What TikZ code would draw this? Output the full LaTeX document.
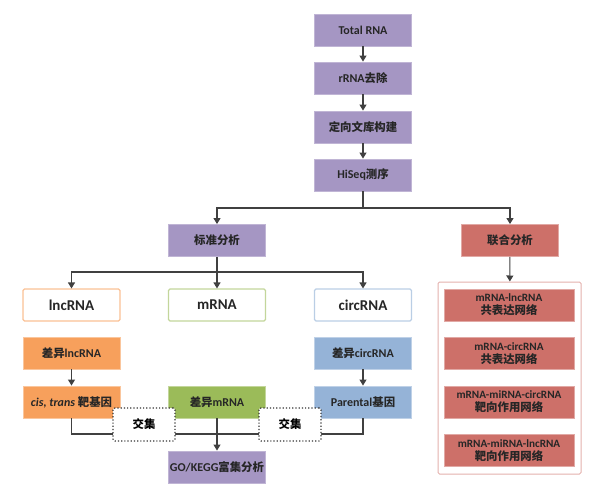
\documentclass[tikz,border=0pt]{standalone}
\usepackage{fontspec}
\setmainfont{Carlito}
\newfontfamily\cjk{Noto Sans CJK SC}[Scale=0.95]
\usetikzlibrary{arrows.meta}
\definecolor{cpurple}{RGB}{165,150,195}
\definecolor{cred}{RGB}{205,112,105}
\definecolor{corange}{RGB}{247,160,92}
\definecolor{cgreen}{RGB}{155,187,89}
\definecolor{cblue}{RGB}{149,179,215}
\definecolor{lnline}{RGB}{64,64,64}
\newcommand\zh[1]{{\cjk #1}}
\tikzset{
  box/.style={minimum width=97pt, minimum height=32pt, inner sep=1pt, align=center,
    font=\bfseries\fontsize{12}{13}\selectfont, text=black!85, line width=0.9pt},
  pbox/.style={box, fill=cpurple, draw=cpurple!70!white},
  rbox/.style={box, fill=cred, draw=cred!60!white, minimum width=130pt},
  obox/.style={box, fill=corange, draw=corange!60!white},
  gbox/.style={box, fill=cgreen, draw=cgreen!60!white},
  bbox/.style={box, fill=cblue, draw=cblue!60!white},
  wbox/.style={box, fill=white, rounded corners=1.5pt, line width=1.1pt,
    font=\bfseries\fontsize{15}{16}\selectfont},
  conn/.style={draw=lnline, line width=1.1pt},
  arr/.style={conn, -{Triangle[width=7pt,length=6pt]}},
  xbox/.style={draw=black!80, dotted, line width=1.2pt, fill=white, rounded corners=2pt,
    minimum width=62pt, minimum height=33pt, font=\bfseries\fontsize{12}{13}\selectfont},
  cont/.style={draw=cred!55!white, line width=1pt, rounded corners=1.5pt,
    minimum width=143pt, minimum height=192pt}
}
\newcommand\sm[1]{{\fontsize{11.2}{13}\selectfont #1}}
\begin{document}
\begin{tikzpicture}[x=1pt,y=-1pt]
\useasboundingbox (0,0) rectangle (599,500);
% top chain
\node[pbox] (t1) at (363,30) {Total RNA};
\node[pbox] (t2) at (363,78) {rRNA\zh{去除}};
\node[pbox] (t3) at (363,127) {\zh{定向文库构建}};
\node[pbox] (t4) at (363,175) {HiSeq\zh{测序}};
\node[pbox] (std) at (217,240.5) {\zh{标准分析}};
\node[rbox, minimum width=97pt] (joint) at (510,240.5) {\zh{联合分析}};
% types
\node[wbox, draw=corange!65!white] (lnc) at (71.5,305) {lncRNA};
\node[wbox, draw=cgreen!60!white] (mrna) at (217,305) {mRNA};
\node[wbox, draw=cblue!65!white] (circ) at (363,305) {circRNA};
% differential
\node[obox] (dlnc) at (71.5,353) {\zh{差异}lncRNA};
\node[obox] (cis) at (71.5,402) {\textit{cis, trans} \zh{靶基因}};
\node[gbox] (dm) at (217,402) {\zh{差异}mRNA};
\node[bbox] (dcirc) at (363,353) {\zh{差异}circRNA};
\node[bbox] (par) at (363,402) {Parental\zh{基因}};
\node[pbox] (go) at (217,467) {GO/KEGG\zh{富集分析}};
% joint container
\node[cont] (cont) at (509.5,378) {};
\node[rbox] (r1) at (509,305) {\sm{mRNA-lncRNA}\\\zh{共表达网络}};
\node[rbox] (r2) at (509,353.5) {\sm{mRNA-circRNA}\\\zh{共表达网络}};
\node[rbox] (r3) at (509,402) {\sm{mRNA-miRNA-circRNA}\\\zh{靶向作用网络}};
\node[rbox] (r4) at (509,450.5) {\sm{mRNA-miRNA-lncRNA}\\\zh{靶向作用网络}};
% connectors
\draw[arr] (t1) -- (t2);
\draw[arr] (t2) -- (t3);
\draw[arr] (t3) -- (t4);
\coordinate (b1) at (363,208);
\draw[conn] (t4) -- (b1);
\draw[arr] (b1) -| (std);
\draw[arr] (b1) -| (joint);
\coordinate (b2) at (217,272);
\draw[conn] (std) -- (b2);
\draw[arr] (b2) -| (lnc);
\draw[arr] (b2) -- (mrna);
\draw[arr] (b2) -| (circ);
\draw[arr] (joint) -- (cont);
\draw[arr] (dlnc) -- (cis);
\draw[arr] (dcirc) -- (par);
\coordinate (j) at (217,434);
\draw[conn] (cis) |- (j);
\draw[conn] (par) |- (j);
\draw[arr] (dm) -- (go);
% intersections
\node[xbox] (x1) at (144,424.5) {\zh{交集}};
\node[xbox] (x2) at (290,424.5) {\zh{交集}};
\end{tikzpicture}
\end{document}
